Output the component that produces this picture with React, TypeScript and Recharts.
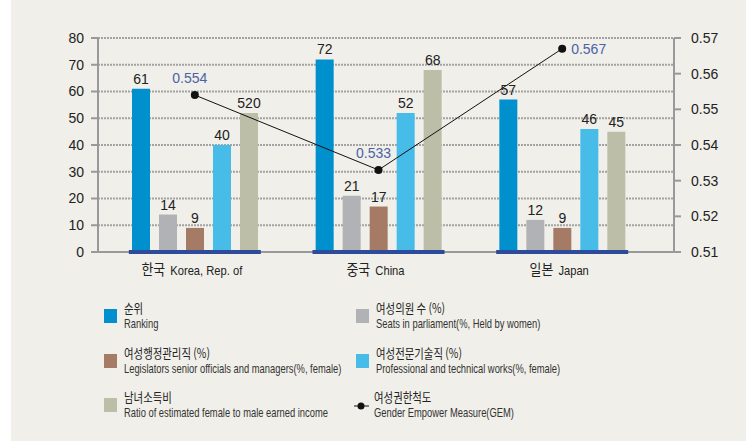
import { ComposedChart, Bar, Line, XAxis, YAxis, CartesianGrid, LabelList } from 'recharts';

// categories
const countriesKo = ['한국', '중국', '일본'];
const countriesEn = ['Korea, Rep. of', 'China', 'Japan'];

// series values
const ranking = [61, 72, 57];
const seats = [14, 21, 12];
const legislators = [9, 17, 9];
const professional = [40, 52, 46];
const income = [52, 68, 45];
const incomeLabels = ['520', '68', '45'];
const gem = [0.554, 0.533, 0.567];

// ticks
const leftTicks = [0, 10, 20, 30, 40, 50, 60, 70, 80];
const rightTicks = [0.51, 0.52, 0.53, 0.54, 0.55, 0.56, 0.57];

// legend texts
const legendKo = ['순위', '여성의원 수 (%)', '여성행정관리직 (%)', '여성전문기술직 (%)', '남녀소득비', '여성권한척도'];
const legendEn = [
  'Ranking',
  'Seats in parliament(%, Held by women)',
  'Legislators senior officials and managers(%, female)',
  'Professional and technical works(%, female)',
  'Ratio of estimated female to male earned income',
  'Gender Empower Measure(GEM)',
];

const COLORS = {
  ranking: '#0090cd',
  seats: '#b1b2b6',
  legislators: '#a67b66',
  professional: '#48bce8',
  income: '#bcbea8',
  strip: '#2e4b9b',
  gemLabel: '#4a63a6',
};
const legendColors = [COLORS.ranking, COLORS.seats, COLORS.legislators, COLORS.professional, COLORS.income, null];

const NUM_FONT = "'Liberation Sans', Arial, sans-serif";
const KR_FONT = "'Noto Sans CJK KR', sans-serif";

const data = countriesKo.map((ko, i) => ({
  ko,
  ranking: ranking[i],
  seats: seats[i],
  legislators: legislators[i],
  professional: professional[i],
  income: income[i],
  incomeLabel: incomeLabels[i],
  gem: gem[i],
}));

function CountryTick(props: any) {
  const { x, y, payload } = props;
  const i = countriesKo.indexOf(payload.value);
  return (
    <g>
      <rect x={x - 66} y={y - 2} width={132} height={4} fill={COLORS.strip} />
      <g transform={`translate(${x - 3},${y + 23}) scale(0.86,1)`}>
        <text x={0} y={0} textAnchor="middle" fill="#222">
          <tspan fontSize={15} fontFamily={KR_FONT}>{countriesKo[i]}</tspan>
          <tspan fontSize={13} fontFamily={NUM_FONT} dx={6}>{countriesEn[i]}</tspan>
        </text>
      </g>
    </g>
  );
}

function GemLabel(props: any) {
  const { x, y, value, index } = props;
  const text = Number(value).toFixed(3);
  if (index === 2) {
    return (
      <text x={x + 9} y={y + 5} fill={COLORS.gemLabel} fontSize={14} fontFamily={NUM_FONT}>
        {text}
      </text>
    );
  }
  return (
    <text x={x - 5} y={y - 12} textAnchor="middle" fill={COLORS.gemLabel} fontSize={14} fontFamily={NUM_FONT}>
      {text}
    </text>
  );
}

const barLabel = { position: 'top' as const, offset: 5, fill: '#222', fontSize: 14, fontFamily: NUM_FONT };

function LegendItem({ i, left, top }: { i: number; left: number; top: number }) {
  const color = legendColors[i];
  return (
    <div style={{ position: 'absolute', left, top, display: 'flex', alignItems: 'flex-start' }}>
      {color ? (
        <div style={{ width: 13, height: 14, background: color, marginTop: 9, marginRight: 7 }} />
      ) : (
        <svg width={15} height={10} style={{ marginTop: 12, marginRight: 5 }}>
          <line x1={0} y1={5} x2={15} y2={5} stroke="#111" strokeWidth={1} />
          <circle cx={7} cy={5} r={3.5} fill="#111" />
        </svg>
      )}
      <div style={{ color: '#222', whiteSpace: 'nowrap' }}>
        <div style={{ fontFamily: KR_FONT, fontSize: 13, lineHeight: '16px', transform: 'scaleX(0.8)', transformOrigin: 'left' }}>
          {legendKo[i]}
        </div>
        <div
          style={{
            fontFamily: NUM_FONT,
            fontSize: 13,
            lineHeight: '16px',
            color: '#333',
            transform: 'scaleX(0.72)',
            transformOrigin: 'left',
          }}
        >
          {legendEn[i]}
        </div>
      </div>
    </div>
  );
}

export default function App() {
  return (
    <div style={{ position: 'absolute', left: 0, top: 0, width: 746, height: 441, background: '#fff', overflow: 'hidden' }}>
      <div style={{ position: 'absolute', left: 11, top: 0, right: 0, bottom: 0, background: '#f0efe9' }} />
      <div style={{ position: 'absolute', left: 0, top: 0 }}>
        <ComposedChart
          width={746}
          height={290}
          data={data}
          margin={{ top: 38, right: 0, bottom: 8, left: 0 }}
          barSize={18}
          barGap={9}
        >
          <CartesianGrid vertical={false} stroke="#a3a3a3" strokeWidth={2} strokeDasharray="2 1" yAxisId="left" />
          <XAxis
            dataKey="ko"
            tickLine={false}
            tickSize={0}
            tickMargin={0}
            height={30}
            padding={{ left: 5, right: 20 }}
            axisLine={{ stroke: '#999', strokeWidth: 2 }}
            tick={<CountryTick />}
            interval={0}
          />
          <YAxis
            yAxisId="left"
            domain={[0, 80]}
            ticks={leftTicks}
            width={98}
            tickSize={7}
            tickMargin={7}
            axisLine={{ stroke: '#999', strokeWidth: 2 }}
            tickLine={{ stroke: '#999', strokeWidth: 2 }}
            tick={{ fill: '#222', fontSize: 14, fontFamily: NUM_FONT }}
          />
          <YAxis
            yAxisId="right"
            orientation="right"
            domain={[0.51, 0.57]}
            ticks={rightTicks}
            width={72}
            tickSize={7}
            tickMargin={10}
            axisLine={{ stroke: '#999', strokeWidth: 2 }}
            tickLine={{ stroke: '#999', strokeWidth: 2 }}
            tick={{ fill: '#222', fontSize: 14, fontFamily: NUM_FONT }}
            tickFormatter={(v: number) => v.toFixed(2)}
          />
          <Bar yAxisId="left" dataKey="ranking" fill={COLORS.ranking} isAnimationActive={false}>
            <LabelList dataKey="ranking" {...barLabel} />
          </Bar>
          <Bar yAxisId="left" dataKey="seats" fill={COLORS.seats} isAnimationActive={false}>
            <LabelList dataKey="seats" {...barLabel} />
          </Bar>
          <Bar yAxisId="left" dataKey="legislators" fill={COLORS.legislators} isAnimationActive={false}>
            <LabelList dataKey="legislators" {...barLabel} />
          </Bar>
          <Bar yAxisId="left" dataKey="professional" fill={COLORS.professional} isAnimationActive={false}>
            <LabelList dataKey="professional" {...barLabel} />
          </Bar>
          <Bar yAxisId="left" dataKey="income" fill={COLORS.income} isAnimationActive={false}>
            <LabelList dataKey="incomeLabel" {...barLabel} />
          </Bar>
          <Line
            yAxisId="right"
            dataKey="gem"
            stroke="#111"
            strokeWidth={1}
            dot={{ r: 4, fill: '#111', stroke: '#111', strokeWidth: 0 }}
            isAnimationActive={false}
          >
            <LabelList dataKey="gem" content={<GemLabel />} />
          </Line>
        </ComposedChart>
      </div>
      <LegendItem i={0} left={104} top={300} />
      <LegendItem i={1} left={356} top={300} />
      <LegendItem i={2} left={104} top={345} />
      <LegendItem i={3} left={356} top={345} />
      <LegendItem i={4} left={104} top={389} />
      <LegendItem i={5} left={354} top={389} />
    </div>
  );
}
